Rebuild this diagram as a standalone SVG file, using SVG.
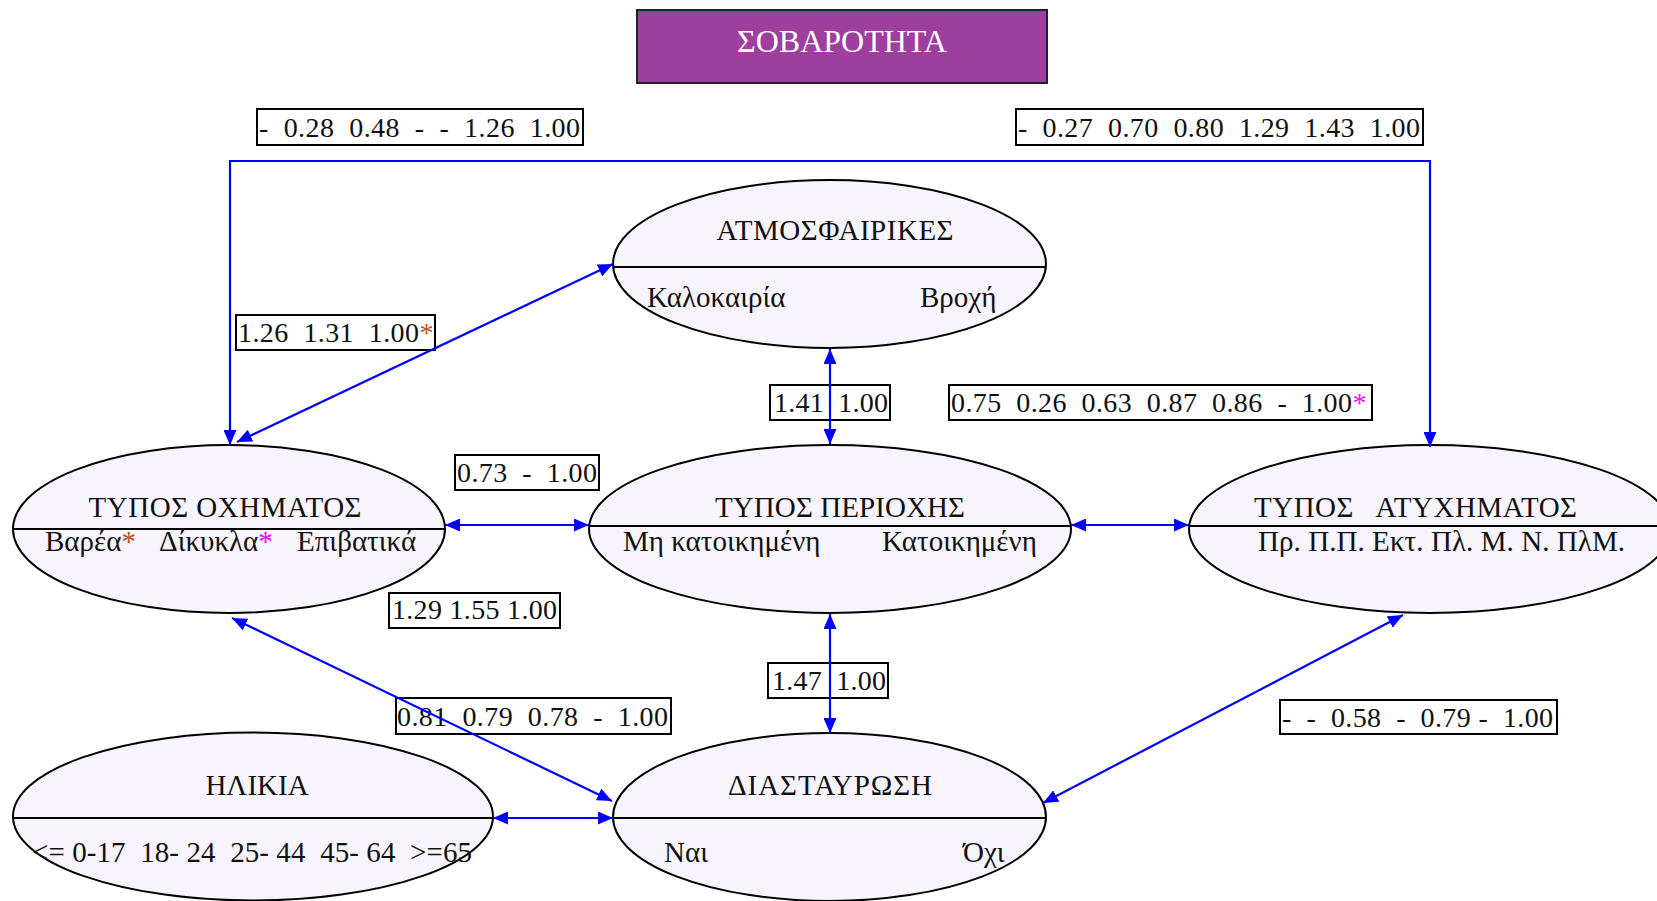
<svg xmlns="http://www.w3.org/2000/svg" width="1657" height="901" viewBox="0 0 1657 901">
  <defs>
    <marker id="arrow" markerUnits="userSpaceOnUse" markerWidth="15" markerHeight="13" refX="15" refY="6.5" orient="auto-start-reverse">
      <path d="M0,0 L15,6.5 L0,13 z" fill="#0000FF"/>
    </marker>
    <style>
      text { font-family: "Liberation Serif", "Times New Roman", serif; font-size: 28px; fill: #111; white-space: pre; }
      .node text { font-size: 29px; }
      .node ellipse { fill: #F8F4FD; stroke: #000; stroke-width: 2; }
      .node line { stroke: #000; stroke-width: 2; }
      .title { text-anchor: middle; }
      .label rect { fill: none; stroke: #000; stroke-width: 2; }
      .conn { fill: none; stroke: #0000FF; stroke-width: 2.2; marker-start: url(#arrow); marker-end: url(#arrow); }
      .star-brown { fill: #C0501A; }
      .star-pink { fill: #FF00FF; }
    </style>
  </defs>
  <rect width="1657" height="901" fill="#FFFFFF"/>

  <!-- header -->
  <g id="header">
    <rect x="637" y="10" width="410" height="73" fill="#9E3F9E" stroke="#222" stroke-width="2"/>
    <text x="842" y="52" text-anchor="middle" style="font-size:32px;fill:#FFFFFF">ΣΟΒΑΡΟΤΗΤΑ</text>
  </g>

  <!-- nodes -->
  <g id="atmosfairikes" class="node">
    <ellipse cx="829.5" cy="264" rx="216.5" ry="84"/>
    <line x1="613" y1="267" x2="1046" y2="267"/>
    <text class="title" x="835" y="240" textLength="237">ΑΤΜΟΣΦΑΙΡΙΚΕΣ</text>
    <text x="647" y="307">Καλοκαιρία</text>
    <text x="920" y="307">Βροχή</text>
  </g>

  <g id="typos-oximatos" class="node">
    <ellipse cx="229" cy="529" rx="216" ry="84"/>
    <line x1="13" y1="529" x2="445" y2="529"/>
    <text class="title" x="225" y="517" textLength="273">ΤΥΠΟΣ ΟΧΗΜΑΤΟΣ</text>
    <text y="551"><tspan x="45">Βαρέα</tspan><tspan class="star-brown">*</tspan> <tspan x="159">Δίκυκλα</tspan><tspan class="star-pink">*</tspan> <tspan x="297">Επιβατικά</tspan></text>
  </g>

  <g id="typos-periochis" class="node">
    <ellipse cx="830" cy="529" rx="241" ry="84"/>
    <line x1="589" y1="526" x2="1071" y2="526"/>
    <text class="title" x="840" y="517" textLength="250">ΤΥΠΟΣ ΠΕΡΙΟΧΗΣ</text>
    <text x="623" y="551">Μη κατοικημένη</text>
    <text x="882" y="551">Κατοικημένη</text>
  </g>

  <g id="typos-atychimatos" class="node">
    <ellipse cx="1430" cy="529" rx="241" ry="84"/>
    <line x1="1189" y1="526" x2="1671" y2="526"/>
    <text x="1254" y="517" textLength="323">ΤΥΠΟΣ   ΑΤΥΧΗΜΑΤΟΣ</text>
    <text x="1258" y="551" textLength="367">Πρ. Π.Π. Εκτ. Πλ. Μ. Ν. ΠλΜ.</text>
  </g>

  <g id="ilikia" class="node">
    <ellipse cx="253" cy="816.5" rx="240" ry="84"/>
    <line x1="13" y1="818" x2="493" y2="818"/>
    <text class="title" x="257" y="795">ΗΛΙΚΙΑ</text>
    <text x="32" y="862" textLength="440">&lt;= 0-17  18- 24  25- 44  45- 64  &gt;=65</text>
  </g>

  <g id="diastavrosi" class="node">
    <ellipse cx="829.5" cy="817" rx="216.5" ry="84"/>
    <line x1="613" y1="818" x2="1046" y2="818"/>
    <text class="title" x="830" y="795" textLength="204">ΔΙΑΣΤΑΥΡΩΣΗ</text>
    <text x="664" y="862">Ναι</text>
    <text x="963" y="862">Όχι</text>
  </g>

  <!-- edge labels -->
  <g id="labels">
    <g class="label">
      <rect x="257" y="109" width="326" height="36"/>
      <text x="259" y="137" textLength="321">-  0.28  0.48  -  -  1.26  1.00</text>
    </g>
    <g class="label">
      <rect x="1016" y="109" width="407" height="36"/>
      <text x="1018" y="137" textLength="402">-  0.27  0.70  0.80  1.29  1.43  1.00</text>
    </g>
    <g class="label">
      <rect x="236" y="315" width="199" height="35"/>
      <text x="238" y="342"><tspan textLength="181">1.26  1.31  1.00</tspan><tspan class="star-brown">*</tspan></text>
    </g>
    <g class="label">
      <rect x="770" y="385" width="120" height="35"/>
      <text x="774" y="412" textLength="114">1.41  1.00</text>
    </g>
    <g class="label">
      <rect x="949" y="385" width="423" height="35"/>
      <text x="951" y="412"><tspan textLength="401">0.75  0.26  0.63  0.87  0.86  -  1.00</tspan><tspan class="star-pink">*</tspan></text>
    </g>
    <g class="label">
      <rect x="455" y="455" width="144" height="35"/>
      <text x="457" y="482" textLength="140">0.73  -  1.00</text>
    </g>
    <g class="label">
      <rect x="389" y="593" width="171" height="35"/>
      <text x="392" y="619" textLength="165">1.29 1.55 1.00</text>
    </g>
    <g class="label">
      <rect x="768" y="663" width="120" height="35"/>
      <text x="772" y="690" textLength="114">1.47  1.00</text>
    </g>
    <g class="label">
      <rect x="396" y="698" width="275" height="36"/>
      <text x="397" y="726" textLength="271">0.81  0.79  0.78  -  1.00</text>
    </g>
    <g class="label">
      <rect x="1280" y="700" width="277" height="34"/>
      <text x="1282" y="727" textLength="271">-  -  0.58  -  0.79 -  1.00</text>
    </g>
  </g>

  <!-- connectors -->
  <g id="connectors">
    <path class="conn" d="M230,445 V161 H1430 V447"/>
    <path class="conn" d="M237,442 L613,264"/>
    <path class="conn" d="M830,349 V444"/>
    <path class="conn" d="M445,525 H589"/>
    <path class="conn" d="M1071,525 H1189"/>
    <path class="conn" d="M830,614 V733"/>
    <path class="conn" d="M232,618 L612,801"/>
    <path class="conn" d="M493,818 H613"/>
    <path class="conn" d="M1403,615 L1043,803"/>
  </g>
</svg>
